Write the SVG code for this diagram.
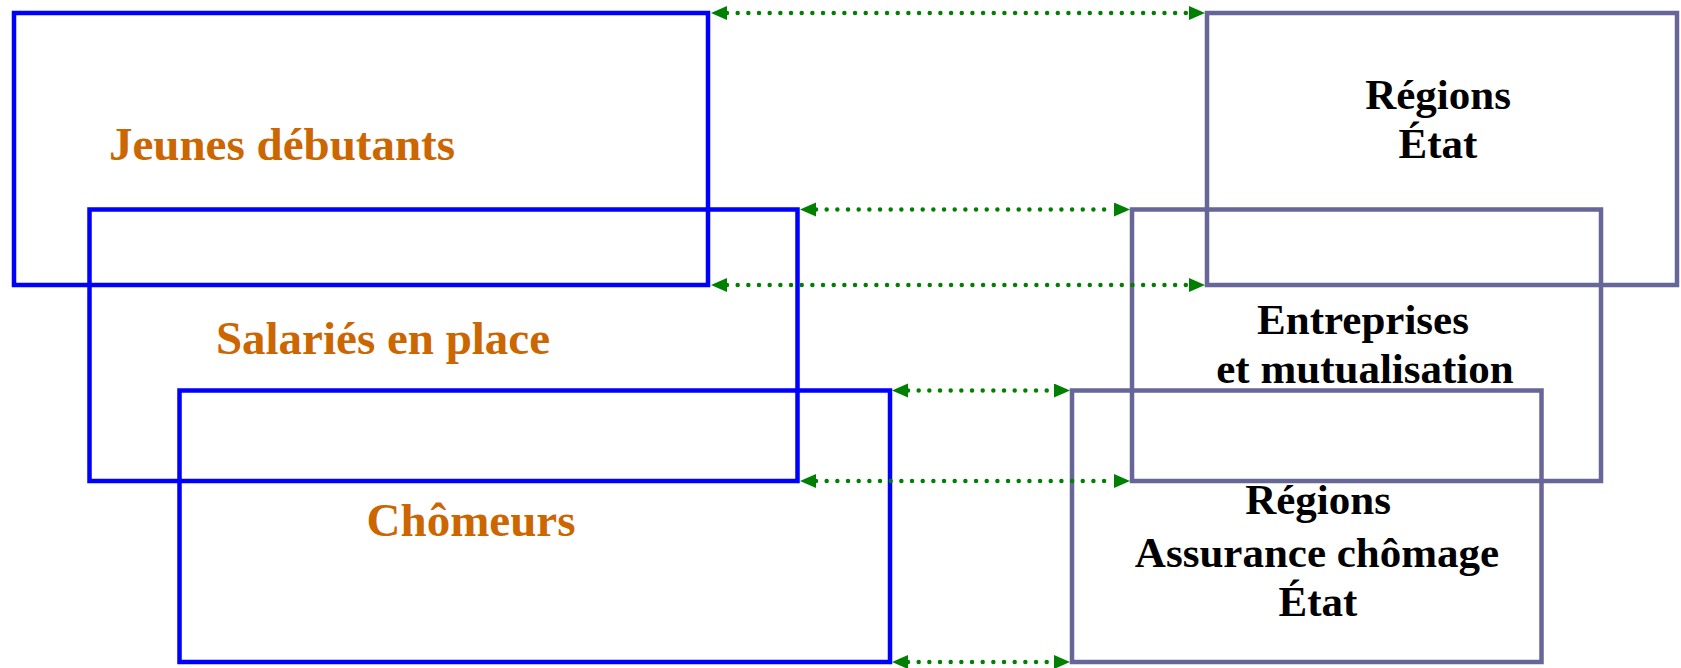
<svg xmlns="http://www.w3.org/2000/svg" width="1681" height="668" viewBox="0 0 1681 668">
<style>
.lb{fill:none;stroke:#0000FF;stroke-width:4.5}
.rb{fill:none;stroke:#666699;stroke-width:4.5}
.c{fill:none;stroke:#008000;stroke-width:4.5;stroke-dasharray:0 10.67;stroke-linecap:round;marker-start:url(#ah);marker-end:url(#ah)}
.to{font-family:"Liberation Serif","Times New Roman",serif;font-weight:bold;font-size:47px;fill:#CC6600;text-anchor:middle}
.tb{font-family:"Liberation Serif","Times New Roman",serif;font-weight:bold;font-size:43px;fill:#000000;text-anchor:middle}
</style>
<defs>
<marker id="ah" markerUnits="userSpaceOnUse" markerWidth="17" markerHeight="15" refX="0" refY="7" orient="auto-start-reverse">
<path d="M0,0 L16,7 L0,14 z" fill="#008000"/>
</marker>
</defs>
<rect width="1681" height="668" fill="#ffffff"/>
<g id="jeunes"><rect class="lb" x="14" y="13" width="694" height="272"/><text class="to" x="282" y="160">Jeunes débutants</text></g>
<g id="salaries"><rect class="lb" x="89.5" y="209.5" width="708" height="271.5"/><text class="to" x="383" y="354">Salariés en place</text></g>
<g id="chomeurs"><rect class="lb" x="179.5" y="390.5" width="710.5" height="271.5"/><text class="to" x="471" y="536">Chômeurs</text></g>
<g id="regions-etat"><rect class="rb" x="1207" y="13" width="470" height="272"/><text class="tb" x="1438" y="109">Régions</text><text class="tb" x="1438" y="158">État</text></g>
<g id="entreprises"><rect class="rb" x="1132" y="209.5" width="469" height="271.5"/><text class="tb" x="1363" y="334">Entreprises</text><text class="tb" x="1365" y="383">et mutualisation</text></g>
<g id="regions-ac-etat"><rect class="rb" x="1072" y="390.5" width="469.5" height="271.5"/><text class="tb" x="1318" y="514">Régions</text><text class="tb" x="1317" y="567">Assurance chômage</text><text class="tb" x="1318" y="616">État</text></g>
<g id="connectors">
<path class="c" d="M727,13 H1189"/>
<path class="c" d="M816,209.5 H1114"/>
<path class="c" d="M727,285 H1189"/>
<path class="c" d="M908,390.5 H1054"/>
<path class="c" d="M816,481 H1114"/>
<path class="c" d="M908,662 H1054"/>
</g>
</svg>
